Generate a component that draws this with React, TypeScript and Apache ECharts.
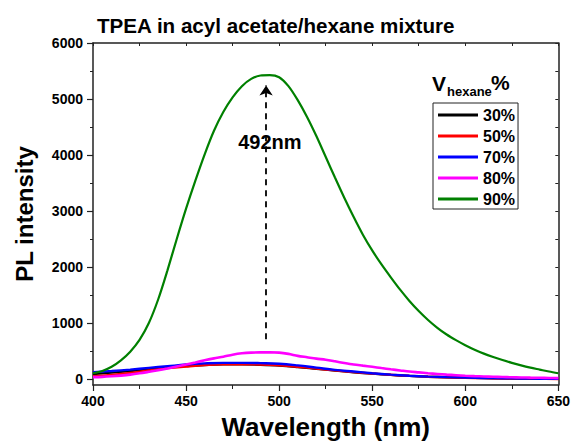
import React, { useEffect, useRef } from "react";
import * as echarts from "echarts";

const titleText = "TPEA in acyl acetate/hexane mixture";
const xName = "Wavelength (nm)";
const yName = "PL intensity";
const seriesNames = ["30%", "50%", "70%", "80%", "90%"];
const seriesColors = ["#000000", "#ff0000", "#0000ff", "#ff00ff", "#008000"];

const yTicks = [0, 1000, 2000, 3000, 4000, 5000, 6000];
const yMinorTicks = [500, 1500, 2500, 3500, 4500, 5500];
const yAllTicks = [0, 500, 1000, 1500, 2000, 2500, 3000, 3500, 4000, 4500, 5000, 5500, 6000];

// wavelengths (nm) for the sparse curves
const wl10 = [400, 410, 420, 430, 440, 450, 460, 470, 480, 490, 500, 510, 520, 530, 540, 550, 560, 570, 580, 590, 600, 610, 620, 630, 640, 650];
// wavelengths (nm) for the dense curves
const wl5 = [400, 405, 410, 415, 420, 425, 430, 435, 440, 445, 450, 455, 460, 465, 470, 475, 480, 485, 490, 495, 500, 505, 510, 515, 520, 525, 530, 535, 540, 545, 550, 555, 560, 565, 570, 575, 580, 585, 590, 595, 600, 605, 610, 615, 620, 625, 630, 635, 640, 645, 650];

const v30 = [95, 120, 150, 185, 215, 240, 258, 268, 268, 262, 248, 222, 190, 158, 128, 102, 80, 62, 48, 38, 30, 24, 19, 15, 12, 10];
const v50 = [55, 80, 115, 160, 200, 230, 255, 268, 270, 265, 250, 225, 195, 160, 130, 105, 82, 62, 48, 37, 28, 22, 17, 13, 10, 8];
const v70 = [130, 150, 175, 205, 235, 265, 285, 295, 295, 290, 280, 250, 210, 170, 140, 110, 85, 65, 50, 40, 32, 25, 20, 15, 12, 10];
const v80 = [40, 45, 55, 68, 85, 108, 135, 163, 195, 230, 265, 302, 340, 375, 405, 440, 465, 478, 482, 483, 478, 455, 420, 395, 370, 350, 322, 292, 265, 245, 225, 202, 180, 160, 140, 125, 110, 97, 85, 75, 65, 58, 52, 47, 42, 38, 35, 31, 28, 25, 22];
const v90 = [110, 150, 225, 340, 495, 705, 1005, 1425, 1945, 2505, 3045, 3545, 4015, 4435, 4770, 5030, 5230, 5360, 5420, 5428, 5390, 5230, 4980, 4680, 4340, 3970, 3600, 3240, 2900, 2580, 2300, 2050, 1820, 1600, 1400, 1220, 1060, 920, 800, 700, 610, 530, 460, 400, 345, 295, 250, 210, 175, 140, 110];

const peakLabel = "492nm";
const arrowX = 493;
const arrowFrom = 715;
const arrowTo = 5240;
const peakLabelPos = [495, 4240];

const FONT = "'Liberation Sans', Arial, sans-serif";

function pairs(xs: number[], ys: number[]) {
  return xs.map((x, i) => [x, ys[i]]);
}

export default function App() {
  const ref = useRef<HTMLDivElement>(null);
  useEffect(() => {
    if (!ref.current) return;
    const chart = echarts.init(ref.current, null, { renderer: "svg" });
    const axisColor = "#222";
    const lows = [v30, v50, v70];
    const series: any[] = [];
    for (let i = 0; i < 3; i++) {
      series.push({
        name: seriesNames[i],
        type: "line",
        data: pairs(wl10, lows[i]),
        smooth: 0.4,
        symbol: "none",
        lineStyle: { color: seriesColors[i], width: 2.4 },
        itemStyle: { color: seriesColors[i] },
      });
    }
    series.push({
      name: seriesNames[3],
      type: "line",
      data: pairs(wl5, v80),
      smooth: 0.3,
      symbol: "none",
      lineStyle: { color: seriesColors[3], width: 2.6 },
      itemStyle: { color: seriesColors[3] },
    });
    series.push({
      name: seriesNames[4],
      type: "line",
      data: pairs(wl5, v90),
      smooth: 0.3,
      symbol: "none",
      lineStyle: { color: seriesColors[4], width: 2.2 },
      itemStyle: { color: seriesColors[4] },
      markLine: {
        silent: true,
        symbol: ["none", "arrow"],
        symbolSize: 10,
        label: { show: false },
        lineStyle: { color: "#000", type: [6, 5], width: 1.8 },
        data: [[{ coord: [arrowX, arrowFrom] }, { coord: [arrowX, arrowTo] }]],
      },
      markPoint: {
        silent: true,
        symbol: "circle",
        symbolSize: 1,
        itemStyle: { color: "rgba(0,0,0,0)" },
        label: {
          show: true,
          position: "inside",
          formatter: peakLabel,
          color: "#000",
          fontSize: 20,
          fontWeight: "bold",
          fontFamily: FONT,
        },
        data: [{ coord: peakLabelPos }],
      },
    });

    const xAxisBase = {
      type: "value",
      min: 400,
      max: 650,
      interval: 50,
      splitLine: { show: false },
    };
    const yAxisBase = {
      type: "value",
      min: -100,
      max: 6000,
      splitLine: { show: false },
    };

    chart.setOption({
      animation: false,
      backgroundColor: "#fff",
      title: {
        text: titleText,
        left: 97,
        top: 15,
        padding: 0,
        textStyle: { fontSize: 20.6, fontWeight: "bold", fontFamily: FONT, color: "#000" },
      },
      grid: { left: 93, right: 11, top: 43, bottom: 56, containLabel: false },
      legend: {
        data: seriesNames,
        orient: "vertical",
        left: 433,
        top: 103,
        icon: "rect",
        itemWidth: 40,
        itemHeight: 3,
        itemGap: 5,
        padding: [4, 3, 2, 5],
        borderColor: "#222",
        borderWidth: 1,
        textStyle: { fontSize: 16, fontWeight: "bold", fontFamily: FONT, color: "#000" },
      },
      xAxis: [
        {
          ...xAxisBase,
          position: "bottom",
          name: xName,
          nameLocation: "middle",
          nameGap: 29,
          nameTextStyle: { fontSize: 26, fontWeight: "bold", fontFamily: FONT, color: "#000" },
          axisLine: { show: true, onZero: false, lineStyle: { color: axisColor, width: 1.5 } },
          axisTick: { show: true, inside: false, length: 6, lineStyle: { color: axisColor, width: 1.2 } },
          minorTick: { show: true, splitNumber: 2, length: 4, lineStyle: { color: axisColor, width: 1 } },
          axisLabel: { fontSize: 14, fontWeight: "bold", fontFamily: FONT, color: "#000", margin: 9 },
        },
        {
          ...xAxisBase,
          position: "top",
          axisLine: { show: true, onZero: false, lineStyle: { color: axisColor, width: 1.5 } },
          axisTick: { show: true, inside: true, length: 3, lineStyle: { color: axisColor, width: 1 } },
          minorTick: { show: true, splitNumber: 2, length: 3, lineStyle: { color: axisColor, width: 1 } },
          axisLabel: { show: false },
        },
      ],
      yAxis: [
        {
          ...yAxisBase,
          position: "left",
          name: yName,
          nameLocation: "middle",
          nameGap: 57,
          nameTextStyle: { fontSize: 24, fontWeight: "bold", fontFamily: FONT, color: "#000" },
          axisLine: { show: true, onZero: false, lineStyle: { color: axisColor, width: 1.5 } },
          axisTick: { show: true, inside: false, length: 6, customValues: yTicks, lineStyle: { color: axisColor, width: 1.2 } },
          axisLabel: {
            customValues: yTicks,
            formatter: (v: number) => String(v),
            fontSize: 14,
            fontWeight: "bold",
            fontFamily: FONT,
            color: "#000",
            margin: 10,
          },
        },
        {
          ...yAxisBase,
          position: "left",
          axisLine: { show: false },
          axisTick: { show: true, inside: false, length: 3, customValues: yMinorTicks, lineStyle: { color: axisColor, width: 1 } },
          axisLabel: { show: false },
        },
        {
          ...yAxisBase,
          position: "right",
          axisLine: { show: true, onZero: false, lineStyle: { color: axisColor, width: 1.5 } },
          axisTick: { show: true, inside: true, length: 3, customValues: yAllTicks, lineStyle: { color: axisColor, width: 1 } },
          axisLabel: { show: false },
        },
      ],
      graphic: [
        {
          type: "group",
          left: 432,
          top: 72,
          children: [
            { type: "text", x: 0, y: 10, style: { text: "V", fontSize: 21, fontWeight: "bold", fontFamily: FONT, fill: "#000", verticalAlign: "middle" } },
            { type: "text", x: 15, y: 18, style: { text: "hexane", fontSize: 13, fontWeight: "bold", fontFamily: FONT, fill: "#000", verticalAlign: "middle" } },
            { type: "text", x: 59, y: 9, style: { text: "%", fontSize: 21, fontWeight: "bold", fontFamily: FONT, fill: "#000", verticalAlign: "middle" } },
          ],
        },
      ],
      series,
    });
    return () => chart.dispose();
  }, []);
  return <div ref={ref} style={{ position: "fixed", left: 0, top: 0, width: 573, height: 445, background: "#fff" }} />;
}
